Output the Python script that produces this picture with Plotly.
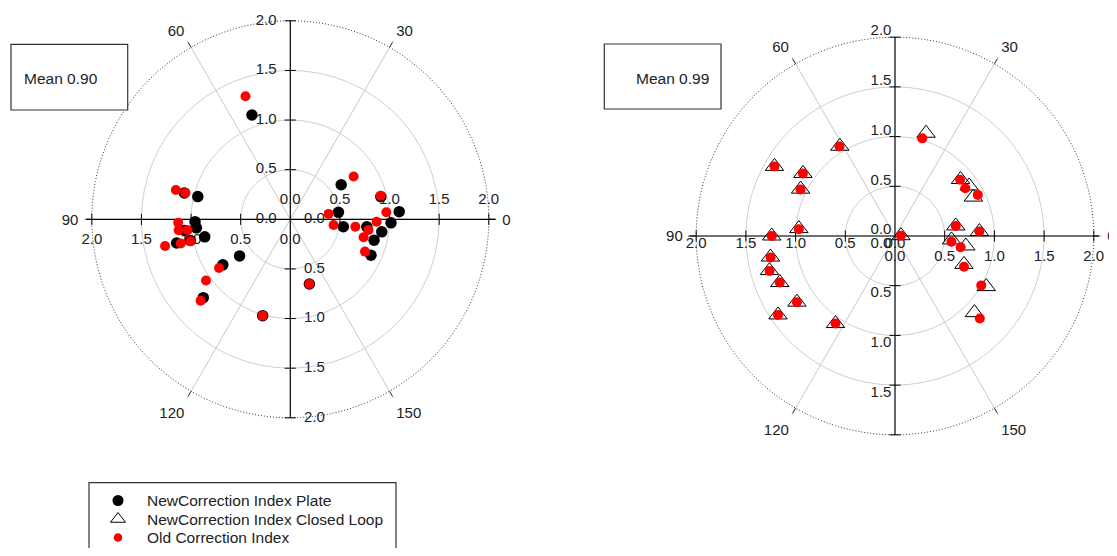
import numpy as np
import plotly.graph_objects as go

# ---------------- data ----------------
ANGLE_TICKS = [0, 30, 60, 90, 120, 150]          # angular axis labels (0-180 spans the full circle)
RADIAL_GRID = [0.5, 1.0, 1.5]
AXIS_VALUES = [0.0, 0.5, 1.0, 1.5, 2.0]           # labels along the cross axes

left_plate_angle = [55.1, 17.1, 7.0, 2.0, 4.1, 176.0, 177.2, 179.0, 176.1, 173.0, 168.0, 143.2,
                    127.0, 107.9, 107.0, 111.0, 83.1, 83.0, 90.7, 92.6, 93.0, 95.8, 96.0, 95.9]
left_plate_r = [1.12, 0.62, 0.94, 1.10, 0.49, 0.54, 0.775, 1.015, 0.93, 0.87, 0.89, 0.68,
                1.01, 0.63, 0.82, 1.18, 0.96, 1.10, 0.96, 0.95, 1.07, 0.88, 1.03, 1.17]

left_old_angle = [55.0, 17.0, 7.3, 2.1, 4.0, 176.2, 176.7, 179.2, 176.1, 173.1, 168.3, 143.2,
                  127.0, 107.2, 108.0, 111.1, 82.8, 82.9, 90.9, 92.8, 93.0, 96.2, 96.2, 96.0]
left_old_r = [1.32, 0.77, 0.94, 0.97, 0.39, 0.44, 0.66, 0.87, 0.795, 0.76, 0.82, 0.68,
              1.01, 0.87, 1.05, 1.22, 1.19, 1.09, 1.13, 1.13, 1.04, 1.13, 1.03, 1.29]

right_loop_angle = [36.6, 60.8, 75.0, 72.9, 76.8, 87.8, 90.0, 94.8, 97.7, 101.0, 107.0, 107.0,
                    117.9, 1.5, 4.7, 1.5, 178.0, 176.0, 168.8, 165.5, 158.0, 20.4, 17.0, 13.2]
right_loop_r = [1.08, 1.06, 1.40, 1.12, 1.06, 0.97, 1.24, 1.27, 1.31, 1.25, 1.19, 1.42,
                1.065, 0.06, 0.62, 0.85, 0.57, 0.72, 0.75, 1.05, 1.11, 0.87, 0.90, 0.88]

right_old_angle = [37.2, 60.9, 75.0, 72.9, 76.9, 88.0, 90.0, 94.9, 97.8, 101.0, 107.0, 107.0,
                   117.9, 1.5, 4.7, 1.5, 177.1, 175.1, 168.0, 165.1, 157.9, 20.4, 17.1, 13.2]
right_old_r = [1.02, 1.06, 1.40, 1.12, 1.06, 0.97, 1.24, 1.27, 1.31, 1.25, 1.19, 1.42,
               1.065, 0.06, 0.62, 0.85, 0.57, 0.67, 0.76, 1.00, 1.19, 0.865, 0.855, 0.93]

mean_labels = ["Mean 0.90", "Mean 0.99"]
legend_names = ["NewCorrection Index Plate", "NewCorrection Index Closed Loop", "Old Correction Index"]

# ---------------- styling / helpers ----------------
FONT = "Liberation Sans, Arial, sans-serif"
TXT = "#222222"
OFF_X, OFF_Y = 8, 8                     # page body margin (px)
W, H = 1117 - OFF_X, 556 - 2 * OFF_Y    # figure fits the window exactly
DEG_PER_LABEL_DEG = 360 / 180           # angular axis spans 0-180 over the full circle
RMAX = 2.08                             # radial range (outer dotted circle is at 2.0)

STYLE_PLATE = dict(symbol="circle", color="black")
STYLE_LOOP = dict(symbol="triangle-up-open", color="black", line=dict(color="black", width=1))
STYLE_OLD = dict(symbol="circle", color="#ff0000")


def th(angles):
    return [a * DEG_PER_LABEL_DEG for a in angles]


def px(x):
    return (x - OFF_X) / W


def py(y):
    return 1 - (y - OFF_Y) / H


fig = go.Figure()


def add_frame(subplot, ppu, offsets, hline_ext):
    # dotted outer circle at r = 2
    circ = np.linspace(0, 360, 721)
    fig.add_trace(go.Scatterpolar(r=[2.0] * len(circ), theta=circ, mode="lines",
                                  line=dict(color="#333333", width=1, dash="1px,2px"),
                                  subplot=subplot, showlegend=False, hoverinfo="skip"))
    # dark angular ticks just outside the circle
    tr, tt = [], []
    for a in th(ANGLE_TICKS):
        tr += [2.0, 2.06, None]
        tt += [a, a, None]
    fig.add_trace(go.Scatterpolar(r=tr, theta=tt, mode="lines",
                                  line=dict(color="#333333", width=1), connectgaps=False,
                                  subplot=subplot, showlegend=False, hoverinfo="skip"))
    # cross axes through the centre
    fig.add_trace(go.Scatterpolar(r=[hline_ext[0], hline_ext[1]], theta=[180, 0], mode="lines",
                                  line=dict(color="black", width=1.2), subplot=subplot,
                                  showlegend=False, hoverinfo="skip"))
    fig.add_trace(go.Scatterpolar(r=[2.0, 2.0], theta=[90, 270], mode="lines",
                                  line=dict(color="black", width=1.2), subplot=subplot,
                                  showlegend=False, hoverinfo="skip"))
    ticks_v = AXIS_VALUES[1:]
    fig.add_trace(go.Scatterpolar(r=ticks_v * 2, theta=[0] * 4 + [180] * 4, mode="markers",
                                  marker=dict(symbol="line-ns", size=8,
                                              line=dict(color="black", width=1)),
                                  subplot=subplot, showlegend=False, hoverinfo="skip",
                                  cliponaxis=False))
    fig.add_trace(go.Scatterpolar(r=ticks_v * 2, theta=[90] * 4 + [270] * 4, mode="markers",
                                  marker=dict(symbol="line-ew", size=8,
                                              line=dict(color="black", width=1)),
                                  subplot=subplot, showlegend=False, hoverinfo="skip",
                                  cliponaxis=False))
    # cross-axis tick labels
    dirs = {"right": (1, 0), "left": (-1, 0), "up": (0, 1), "down": (0, -1)}
    rr, tt, txt = [], [], []
    for d, (ux, uy) in dirs.items():
        ox, oy = offsets[d]
        for v in AXIS_VALUES:
            x = ux * v + ox / ppu
            y = uy * v + oy / ppu
            rr.append(float(np.hypot(x, y)))
            tt.append(float(np.degrees(np.arctan2(y, x)) % 360))
            txt.append(f"{v:.1f}")
    fig.add_trace(go.Scatterpolar(r=rr, theta=tt, mode="text", text=txt,
                                  textposition="middle center",
                                  textfont=dict(family=FONT, size=15, color=TXT),
                                  subplot=subplot, showlegend=False, hoverinfo="skip",
                                  cliponaxis=False))


add_frame("polar", 99.0,
          {"up": (-24, 0), "down": (24, 0), "right": (0, 19), "left": (0, -21)},
          (2.06, 2.07))
add_frame("polar2", 99.4,
          {"up": (-14, 5.5), "down": (-14, -8), "right": (0, -21), "left": (0, -8)},
          (2.14, 2.05))

# ---------------- data markers ----------------
fig.add_trace(go.Scatterpolar(r=left_plate_r, theta=th(left_plate_angle), mode="markers",
                              name=legend_names[0], showlegend=False,
                              marker=dict(size=11.5, **STYLE_PLATE),
                              subplot="polar", cliponaxis=False))
fig.add_trace(go.Scatterpolar(r=left_old_r, theta=th(left_old_angle), mode="markers",
                              name=legend_names[2], showlegend=False,
                              marker=dict(size=10, **STYLE_OLD),
                              subplot="polar", cliponaxis=False))
fig.add_trace(go.Scatterpolar(r=right_loop_r, theta=th(right_loop_angle), mode="markers",
                              name=legend_names[1], showlegend=False,
                              marker=dict(size=16, **STYLE_LOOP),
                              subplot="polar2", cliponaxis=False))
fig.add_trace(go.Scatterpolar(r=right_old_r, theta=th(right_old_angle), mode="markers",
                              name=legend_names[2], showlegend=False,
                              marker=dict(size=10, **STYLE_OLD),
                              subplot="polar2", cliponaxis=False))

# ---------------- legend (drawn in a small hidden cartesian panel, kept inside the page) ----------------
LEG_X0, LEG_X1, LEG_Y0, LEG_Y1 = 89, 396, 482.7, 548     # panel in screen px
leg_rows = [500.5, 519.0, 537.5]
leg_styles = [dict(size=11, **STYLE_PLATE), dict(size=13, **STYLE_LOOP), dict(size=8.5, **STYLE_OLD)]
for name, yrow, mk in zip(legend_names, leg_rows, leg_styles):
    fig.add_trace(go.Scatter(x=[118], y=[yrow], mode="markers", marker=mk, name=name,
                             showlegend=False, hoverinfo="skip", xaxis="x", yaxis="y",
                             cliponaxis=False))
    fig.add_annotation(x=145, y=yrow, xref="x", yref="y", text=name, showarrow=False,
                       xanchor="left", yanchor="middle",
                       font=dict(family=FONT, size=15.5, color=TXT))
# frame (bottom edge lies below the window, as in the original)
fig.add_shape(type="path", xref="paper", yref="paper",
              path=f"M {px(LEG_X0)},0 L {px(LEG_X0)},{py(LEG_Y0)} L {px(LEG_X1)},{py(LEG_Y0)} "
                   f"L {px(LEG_X1)},0",
              line=dict(color="#333333", width=1.2), layer="above")

# ---------------- layout ----------------
ang_vals = th(ANGLE_TICKS)
common_ang = dict(rotation=0, direction="counterclockwise", tickmode="array",
                  tickvals=ang_vals, ticktext=[str(a) for a in ANGLE_TICKS],
                  showgrid=True, gridcolor="#c8c8c8", gridwidth=1, showline=False,
                  ticks="outside", ticklen=2, tickcolor="rgba(0,0,0,0)",
                  tickfont=dict(family=FONT, size=15, color=TXT))
common_rad = dict(range=[0, RMAX], tickmode="array", tickvals=RADIAL_GRID, showgrid=True,
                  gridcolor="#cfcfcf", gridwidth=1, showline=False, showticklabels=False,
                  ticks="")


def dom(cx, cy, R2):
    R = R2 * RMAX / 2.0
    return dict(x=[px(cx - R), px(cx + R)], y=[py(cy + R), py(cy - R)])


fig.update_layout(
    width=W, height=H, margin=dict(l=0, r=0, t=0, b=0),
    paper_bgcolor="white", plot_bgcolor="white",
    font=dict(family=FONT, size=15, color=TXT),
    showlegend=False,
    polar=dict(domain=dom(290.3, 219.3, 198.5), bgcolor="white",
               angularaxis=common_ang, radialaxis=common_rad),
    polar2=dict(domain=dom(895.0, 236.0, 198.8), bgcolor="white",
                angularaxis=common_ang, radialaxis=common_rad),
    xaxis=dict(domain=[px(LEG_X0), px(LEG_X1)], range=[LEG_X0, LEG_X1], visible=False,
               fixedrange=True),
    yaxis=dict(domain=[py(LEG_Y1), py(LEG_Y0)], range=[LEG_Y1, LEG_Y0], visible=False,
               fixedrange=True),
)

# Mean boxes
boxes = [(11, 127.7, 44.3, 110, 60.7), (604.3, 721, 44, 109, 672)]
for (x0, x1, y0, y1, tx), lab in zip(boxes, mean_labels):
    fig.add_shape(type="rect", xref="paper", yref="paper", x0=px(x0), x1=px(x1),
                  y0=py(y1), y1=py(y0), line=dict(color="#333333", width=1.2),
                  fillcolor="white", layer="above")
    fig.add_annotation(x=px(tx), y=py((y0 + y1) / 2 + 1.5), xref="paper", yref="paper",
                       text=lab, showarrow=False, xanchor="center", yanchor="middle",
                       font=dict(family=FONT, size=15.5, color=TXT))

fig.write_html("out.html")
